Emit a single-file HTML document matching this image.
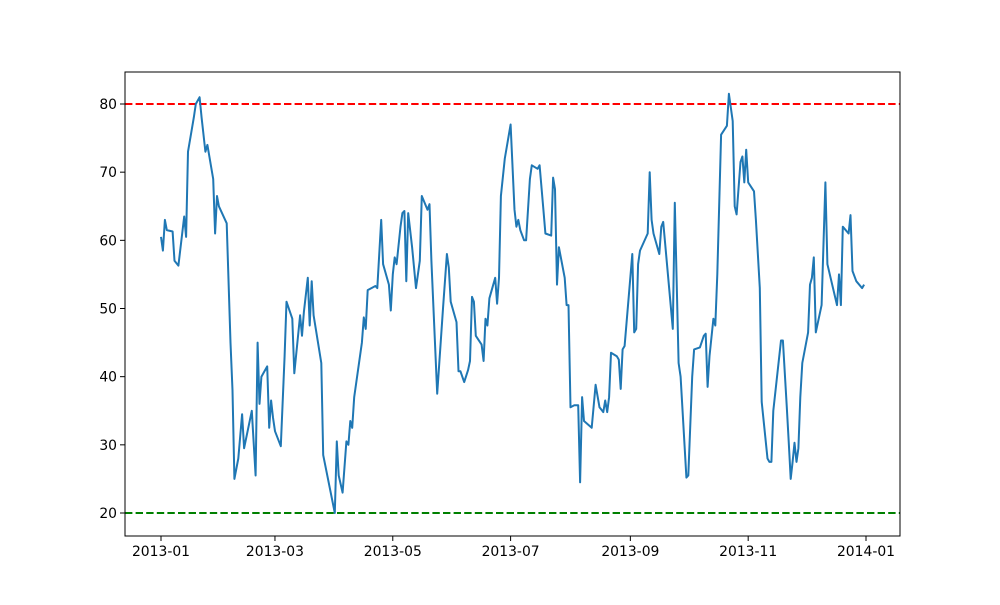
<!DOCTYPE html>
<html><head><meta charset="utf-8"><style>
body{margin:0;background:#fff;}
svg text{font-family:"DejaVu Sans","Liberation Sans",sans-serif;font-size:13.9px;fill:#000;}
</style></head><body>
<svg id="chart" width="1000" height="600" viewBox="0 0 1000 600" xmlns="http://www.w3.org/2000/svg">
<rect width="1000" height="600" fill="#fff"/>
<g id="plot"></g>
</svg>
<script>
const dayOffsets=[0,1,2,3,6,7,9,12,13,14,17,18,20,21,23,24,27,28,29,30,34,36,37,38,40,42,43,47,49,50,51,52,55,56,57,58,59,62,64,65,68,69,72,73,74,76,77,78,79,83,84,90,91,92,94,96,97,98,99,100,104,105,106,107,111,112,114,115,118,119,120,121,122,124,125,126,127,128,130,132,134,135,138,139,140,143,146,148,149,150,153,154,155,157,159,160,161,162,163,166,167,168,169,170,173,174,175,176,178,181,183,184,185,186,188,189,191,192,195,196,198,199,202,203,204,205,206,209,210,211,212,214,216,217,218,219,223,225,227,229,230,231,232,233,236,237,238,239,240,244,245,246,247,248,252,253,254,255,258,259,260,265,266,268,269,272,273,275,276,279,281,282,283,284,286,287,288,290,293,294,296,297,298,300,301,302,303,304,307,308,310,311,314,315,316,317,321,322,324,325,326,327,328,329,330,331,332,335,336,337,338,339,342,344,345,350,351,352,353,356,357,358,360,363,364];
const rsiValues=[60.5,58.5,63,61.5,61.3,57,56.3,63.5,60.5,73,78,80,81,78,73,74,69,61,66.5,65,62.5,45,38,25,28,34.5,29.5,35,25.5,45,36,40,41.5,32.5,36.5,34,32,29.8,43,51,48.5,40.5,49,46,49.5,54.5,47.5,54,49,42,28.5,20,30.5,25.5,23,30.5,30,33.5,32.5,37,45,48.7,47,52.7,53.3,53,63,56.5,53.5,49.7,55,57.5,56.5,62,64,64.3,54,64,59,53,57,66.5,64.5,65.3,57,37.5,50,58,56,51,48,40.8,40.8,39.2,41,42.3,51.7,51,46,44.7,42.3,48.5,47.5,51.5,54.5,50.7,54.5,66.5,72,77,64.5,62,63,61.5,60,60,69,71,70.5,71,64.5,61,60.7,69.2,67.5,53.5,59,54.5,50.5,50.5,35.5,35.8,35.8,24.5,37,33.5,32.5,38.8,35.5,34.8,36.5,34.8,37,43.5,43,42.5,38.2,44,44.5,58,46.5,47,56.5,58.5,61,70,63,61,58,62,62.7,47,65.5,42,40,25.2,25.5,40,44,44.3,46,46.3,38.5,43,48.5,47.5,55,75.5,76.8,81.5,77.5,65,63.8,71.5,72.3,68.5,73.3,68.5,67.2,63,53,36.3,28,27.5,27.5,35,45.3,45.3,35.5,30.5,25,27.5,30.3,27.5,29.5,37,42,46.5,53.5,54.5,57.5,46.5,50.5,68.5,56.5,50.5,55,50.5,62,61,63.7,55.5,54,53,53.5];
const yTicks=[20,30,40,50,60,70,80];
const xTickDays=[0,59,120,181,243,304,365];
const xTickLabels=["2013-01","2013-03","2013-05","2013-07","2013-09","2013-11","2014-01"];
const thresholds=[80,20];
const thresholdColors=["#ff0000","#008000"];

const L=125,R=900,T=72,B=536;
const xs=d=>161+d*705/365;
const ys=v=>104+(80-v)*409/60;
const NS="http://www.w3.org/2000/svg";
const g=document.getElementById('plot');
function mk(tag,attrs){const e=document.createElementNS(NS,tag);for(const k in attrs)e.setAttribute(k,attrs[k]);g.appendChild(e);return e;}

// thresholds
thresholds.forEach((t,i)=>{
  const l=mk('line',{x1:L,x2:R,y1:ys(t),y2:ys(t),stroke:thresholdColors[i],'stroke-width':2,'stroke-dasharray':'7.4,3.2'});
  
  
});
// series
const pts=dayOffsets.map((d,i)=>xs(d).toFixed(1)+','+ys(rsiValues[i]).toFixed(1)).join(' ');
const pl=mk('polyline',{points:pts,fill:'none',stroke:'#1f77b4','stroke-width':2,'stroke-linejoin':'round'});


// frame
const fr=mk('rect',{x:L,y:T,width:R-L,height:B-T,fill:'none',stroke:'#000','stroke-width':1});


// y ticks
yTicks.forEach(v=>{
  const y=ys(v);
  const tl=mk('line',{x1:L-5,x2:L,y1:y,y2:y,stroke:'#000','stroke-width':1});
  
  
  const tx=mk('text',{x:L-8,y:y+5,'text-anchor':'end'});
  tx.textContent=v;
  
  
});
// x ticks
xTickDays.forEach((d,i)=>{
  const x=xs(d);
  const tl=mk('line',{x1:x,x2:x,y1:B,y2:B+5,stroke:'#000','stroke-width':1});
  
  
  const tx=mk('text',{x:x,y:B+20,'text-anchor':'middle'});
  tx.textContent=xTickLabels[i];
  
  
});
</script>
</body></html>
